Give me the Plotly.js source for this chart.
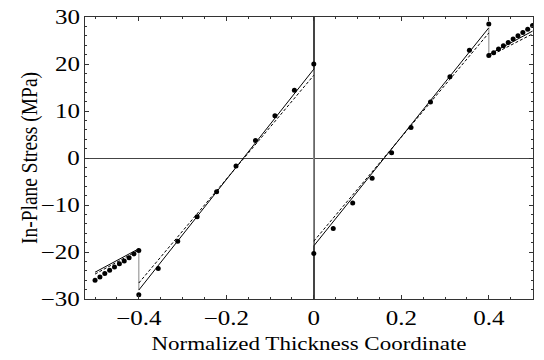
<!DOCTYPE html>
<html>
<head>
<meta charset="utf-8">
<script src="https://cdn.plot.ly/plotly-3.0.1.min.js"></script>
<style>
  html, body { margin: 0; padding: 0; background: #fff; }
  #chart { width: 544px; height: 360px; }
</style>
</head>
<body>
<div id="chart"></div>
<script>
// Through-thickness in-plane stress of a four-layer laminate.
// Layer interfaces (normalized thickness coordinate)
const layerBounds = [-0.5, -0.4, 0, 0.4, 0.5];

// Model 1 (solid): stress at the bottom and top of each layer
const solidStart = [-24.3, -28.1, -18.7, 22.0];
const solidEnd   = [-19.3, 18.9, 27.7, 27.0];

// Model 2 (dashed): stress at the bottom and top of each layer
const dashStart = [-24.7, -26.6, -17.7, 21.6];
const dashEnd   = [-19.6, 17.6, 26.6, 26.4];

// Reference solution sampled through the thickness
const dotZ = [
  -0.5, -0.4889, -0.4778, -0.4667, -0.4556, -0.4444, -0.4333, -0.4222, -0.4111, -0.4,
  -0.4, -0.3556, -0.3111, -0.2667, -0.2222, -0.1778, -0.1333, -0.0889, -0.0444, 0,
  0, 0.0444, 0.0889, 0.1333, 0.1778, 0.2222, 0.2667, 0.3111, 0.3556, 0.4,
  0.4, 0.4111, 0.4222, 0.4333, 0.4444, 0.4556, 0.4667, 0.4778, 0.4889, 0.5
];
const dotStress = [
  -26.0, -25.3, -24.6, -23.9, -23.2, -22.5, -21.9, -21.2, -20.4, -19.7,
  -29.1, -23.5, -17.7, -12.5, -7.2, -1.7, 3.7, 9.0, 14.4, 20.0,
  -20.3, -15.0, -9.6, -4.3, 1.1, 6.5, 11.9, 17.3, 22.9, 28.5,
  21.8, 22.4, 23.2, 23.9, 24.6, 25.3, 26.0, 26.7, 27.4, 28.2
];

const xTicks = [-0.4, -0.2, 0, 0.2, 0.4];
const yTicks = [-30, -20, -10, 0, 10, 20, 30];

// Piecewise-linear polyline, one segment per layer, broken between layers
function layered(starts, ends) {
  const x = [], y = [];
  for (let i = 0; i < starts.length; i++) {
    x.push(layerBounds[i], layerBounds[i + 1], null);
    y.push(starts[i], ends[i], null);
  }
  return { x, y };
}

// Vertical jumps of the solid model at the interior interfaces
function jumps(starts, ends) {
  const x = [], y = [];
  for (let i = 1; i < starts.length; i++) {
    x.push(layerBounds[i], layerBounds[i], null);
    y.push(ends[i - 1], starts[i], null);
  }
  return { x, y };
}

const solid = layered(solidStart, solidEnd);
const dashed = layered(dashStart, dashEnd);
const steps = jumps(solidStart, solidEnd);

const traces = [
  { x: steps.x, y: steps.y, mode: 'lines', line: { color: '#9a9a9a', width: 1.2 },
    connectgaps: false, hoverinfo: 'skip' },
  { x: dashed.x, y: dashed.y, mode: 'lines', line: { color: '#000', width: 1, dash: '3px,2px' },
    connectgaps: false },
  { x: solid.x, y: solid.y, mode: 'lines', line: { color: '#000', width: 1 },
    connectgaps: false },
  { x: dotZ, y: dotStress, mode: 'markers', marker: { color: '#000', size: 5 } }
];

const serif = '"Liberation Serif", "Times New Roman", serif';
const tickFont = { family: serif, size: 20.5, color: '#000' };
const titleFont = { family: serif, size: 19.5, color: '#000' };

const layout = {
  width: 544, height: 360,
  margin: { l: 85, r: 11, t: 17, b: 61 },
  paper_bgcolor: '#fff', plot_bgcolor: '#fff',
  showlegend: false,
  font: tickFont,
  xaxis: {
    range: [-0.523, 0.501],
    tickvals: xTicks,
    ticks: 'inside', ticklen: 4, tickwidth: 1, tickcolor: '#333',
    minor: { dtick: 0.05, ticks: 'inside', ticklen: 2, tickcolor: '#333' },
    showgrid: false,
    showline: true, linecolor: '#333', linewidth: 1, mirror: 'allticks',
    zeroline: true, zerolinecolor: '#444', zerolinewidth: 2,
    tickfont: tickFont,
    title: { text: 'Normalized Thickness Coordinate', font: titleFont, standoff: 8 }
  },
  yaxis: {
    range: [-30, 30],
    tickvals: yTicks,
    ticks: 'inside', ticklen: 4, tickwidth: 1, tickcolor: '#333',
    minor: { dtick: 2, ticks: 'inside', ticklen: 2, tickcolor: '#333' },
    showgrid: false,
    showline: true, linecolor: '#333', linewidth: 1, mirror: 'allticks',
    zeroline: true, zerolinecolor: '#444', zerolinewidth: 1,
    tickfont: tickFont,
    title: { text: 'In-Plane Stress (MPa)', font: titleFont, standoff: 6 }
  }
};

// Widen the serif lettering horizontally (wide-set Times look)
const SX_TICK = 1.22;
const SX_TITLE = 1.18;
function widen(el, ox, oy, sx, sy) {
  const t = el.getAttribute('transform') || '';
  el.setAttribute('transform',
    `${t} translate(${ox},${oy}) scale(${sx},${sy}) translate(${-ox},${-oy})`);
}
function widenText(gd) {
  gd.querySelectorAll('g.xtick text').forEach(el => {
    const b = el.getBBox();
    widen(el, b.x + b.width / 2, b.y + b.height / 2, SX_TICK, 1);
  });
  gd.querySelectorAll('g.ytick text').forEach(el => {
    const b = el.getBBox();
    widen(el, b.x + b.width, b.y + b.height / 2, SX_TICK, 1);
  });
  gd.querySelectorAll('text.xtitle').forEach(el => {
    const b = el.getBBox();
    widen(el, b.x + b.width / 2, b.y + b.height / 2, SX_TITLE, 1);
  });
  gd.querySelectorAll('text.ytitle').forEach(el => {
    const b = el.getBBox();
    // rotated -90deg: local y runs along the screen's horizontal
    widen(el, b.x + b.width / 2, b.y + b.height / 2, 1, SX_TITLE);
  });
}

Plotly.newPlot('chart', traces, layout, { staticPlot: true, displayModeBar: false })
  .then(widenText);
</script>
</body>
</html>
